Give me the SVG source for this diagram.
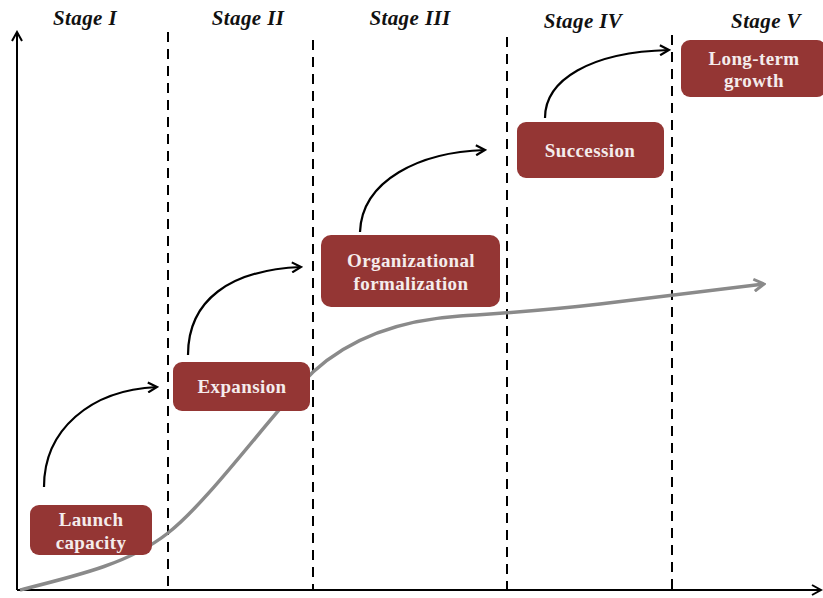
<svg xmlns="http://www.w3.org/2000/svg" width="823" height="598" viewBox="0 0 823 598">
  <style>
    .stage { font-family: "Liberation Serif", "DejaVu Serif", serif; font-weight: bold; font-style: italic; font-size: 21px; letter-spacing: 0.4px; fill: #111; text-anchor: middle; }
    .box { fill: #943634; }
    .label { font-family: "Liberation Serif", "DejaVu Serif", serif; font-weight: bold; font-size: 19px; letter-spacing: 0.4px; fill: #f4ecec; text-anchor: middle; }
    .divider { stroke: #000; stroke-width: 2; stroke-dasharray: 10 7; fill: none; }
    .axis { stroke: #000; stroke-width: 2; fill: none; }
    .step { stroke: #000; stroke-width: 2.2; fill: none; marker-end: url(#blackHead); }
    .trend { stroke: #8a8a8a; stroke-width: 3.5; fill: none; marker-end: url(#grayHead); }
  </style>
  <defs>
    <marker id="blackHead" viewBox="0 0 12 12" refX="10" refY="6" markerWidth="12" markerHeight="12" markerUnits="userSpaceOnUse" orient="auto">
      <path d="M1,1 L10,6 L1,11" fill="none" stroke="#000" stroke-width="2.2"/>
    </marker>
    <marker id="grayHead" viewBox="0 0 14 14" refX="12" refY="7" markerWidth="14" markerHeight="14" markerUnits="userSpaceOnUse" orient="auto">
      <path d="M2,1 L12,7 L2,13" fill="none" stroke="#8a8a8a" stroke-width="3"/>
    </marker>
    <marker id="axisHead" viewBox="0 0 12 12" refX="10" refY="6" markerWidth="12" markerHeight="12" markerUnits="userSpaceOnUse" orient="auto">
      <path d="M1,1 L10,6 L1,11" fill="none" stroke="#000" stroke-width="2"/>
    </marker>
  </defs>

  <rect width="823" height="598" fill="#fff"/>

  <!-- stage headings -->
  <g id="stages">
    <text class="stage" x="85" y="25">Stage I</text>
    <text class="stage" x="248" y="25">Stage II</text>
    <text class="stage" x="410" y="25">Stage III</text>
    <text class="stage" x="583" y="28">Stage IV</text>
    <text class="stage" x="766" y="28">Stage V</text>
  </g>

  <!-- stage dividers -->
  <g id="dividers">
    <line class="divider" x1="168" y1="32" x2="168" y2="590"/>
    <line class="divider" x1="313" y1="40" x2="313" y2="590"/>
    <line class="divider" x1="507" y1="37" x2="507" y2="598"/>
    <line class="divider" x1="672" y1="35" x2="672" y2="590"/>
  </g>

  <!-- axes -->
  <g id="axes">
    <path class="axis" d="M17,590 L17,32" marker-end="url(#axisHead)"/>
    <path class="axis" d="M17,590 L821,590" marker-end="url(#axisHead)"/>
  </g>

  <!-- connectors -->
  <g id="connectors">
    <path class="trend" d="M20,590 C80,575 130,563 168,533 C210,500 272,413 313,372 C350,338 400,320 460,316 C520,312 540,311 600,304 L764,284"/>
    <path class="step" d="M44,487 C44,430 90,390 157,387"/>
    <path class="step" d="M188,355 C188,300 230,270 301,267"/>
    <path class="step" d="M360,232 C362,180 420,152 485,150"/>
    <path class="step" d="M545,118 C545,80 590,52 669,50"/>
  </g>

  <g id="node-launch">
    <rect class="box" x="30" y="505" width="122" height="50" rx="9"/>
    <text class="label" x="91" y="526">Launch</text>
    <text class="label" x="91" y="549">capacity</text>
  </g>

  <g id="node-expansion">
    <rect class="box" x="173" y="362" width="137" height="49" rx="9"/>
    <text class="label" x="242" y="393">Expansion</text>
  </g>

  <g id="node-formalization">
    <rect class="box" x="321" y="235" width="179" height="72" rx="10"/>
    <text class="label" x="411" y="267">Organizational</text>
    <text class="label" x="411" y="290">formalization</text>
  </g>

  <g id="node-succession">
    <rect class="box" x="517" y="122" width="147" height="56" rx="9"/>
    <text class="label" x="590" y="157">Succession</text>
  </g>

  <g id="node-growth">
    <rect class="box" x="681" y="40" width="145" height="57" rx="9"/>
    <text class="label" x="754" y="65">Long-term</text>
    <text class="label" x="754" y="87">growth</text>
  </g>
</svg>
